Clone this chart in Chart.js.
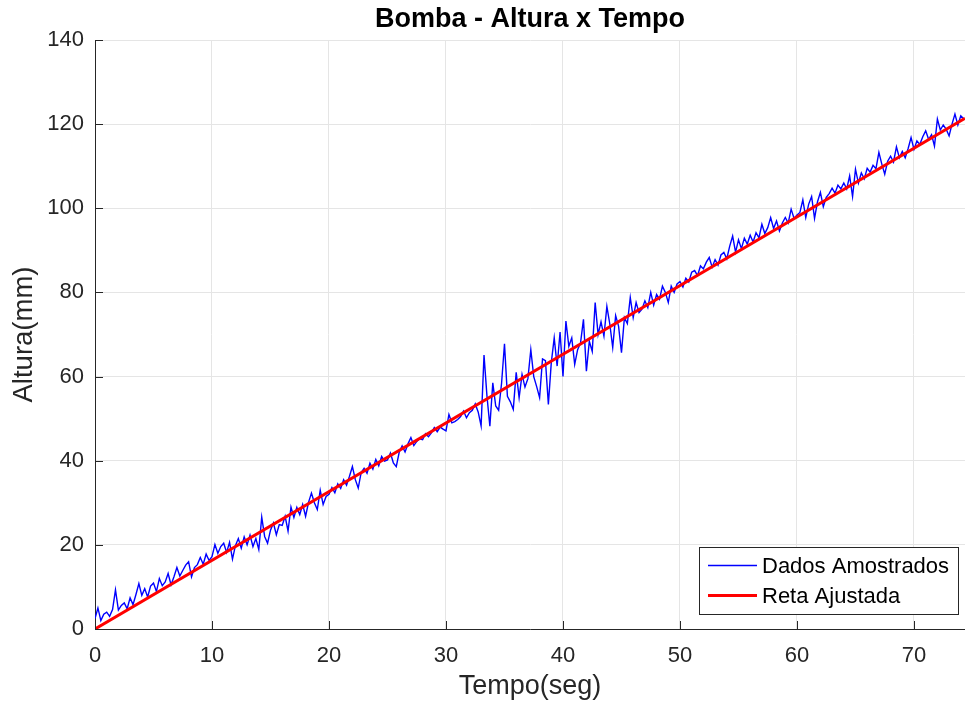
<!DOCTYPE html>
<html>
<head>
<meta charset="utf-8">
<title>Bomba - Altura x Tempo</title>
<script src="https://cdn.jsdelivr.net/npm/chart.js@4.4.1/dist/chart.umd.min.js"></script>
<style>
  html, body { margin: 0; padding: 0; background: #ffffff; }
  #wrap { width: 965px; height: 707px; }
</style>
</head>
<body>
<div id="wrap"><canvas id="grafico" width="965" height="707"></canvas></div>
<script>
// Sampling period of the level sensor (seconds)
const SAMPLE_PERIOD = 0.25;

// Measured water height (mm), one reading per sample
const alturaAmostrada = [
  2.5, 5.0, 2.0, 3.5,   4.0, 3.0, 4.6, 9.3,   4.5, 5.6, 6.2, 4.8,
  7.4, 5.8, 8.2, 10.8,  8.0, 9.6, 7.6, 10.2,  10.9, 8.9, 12.0, 10.3,
  11.2, 13.2, 10.5, 12.4,  14.6, 12.6, 13.9, 15.2,  16.0, 12.4, 14.6, 15.3,
  17.0, 15.4, 17.8, 16.3,  17.2, 20.1, 18.0, 19.6,  20.4, 18.2, 20.6, 16.6,
  19.8, 21.5, 19.2, 21.9,  20.0, 22.3, 19.6, 21.5,  18.9, 26.6, 22.0, 20.4,
  23.5, 25.2, 22.4, 24.8,  24.6, 26.8, 23.3, 29.0,  26.5, 28.9, 27.2, 29.6,
  26.8, 30.1, 32.3, 30.0,  28.4, 33.0, 29.6, 31.5,  32.0, 33.6, 32.4, 34.5,
  33.4, 35.5, 34.2, 36.3,  38.6, 35.5, 33.5, 37.2,  38.2, 37.0, 39.4, 38.0,
  40.3, 38.8, 41.0, 39.9,  40.2, 41.8, 39.5, 38.6,  42.0, 43.5, 42.1, 44.0,
  45.5, 43.6, 44.6, 45.2,  45.0, 46.4, 45.7, 46.6,  47.9, 46.9, 48.0, 47.5,
  47.1, 51.0, 49.0, 49.3,  49.8, 50.5, 51.8, 50.2,  51.4, 52.0, 53.5, 51.6,
  48.3, 65.1, 55.4, 48.2,  58.5, 53.0, 52.0, 58.4,  67.8, 55.3, 54.0, 52.2,
  61.0, 55.0, 60.5, 57.5,  59.5, 66.4, 60.0, 57.6,  55.0, 64.2, 63.8, 53.4,
  63.3, 69.2, 62.5, 70.6,  60.0, 73.2, 67.2, 69.2,  62.9, 66.4, 68.0, 73.6,
  61.3, 68.4, 66.0, 77.6,  70.0, 73.0, 69.6, 76.7,  72.5, 66.9, 74.5, 72.0,
  65.7, 74.0, 72.6, 78.8,  74.0, 77.6, 75.2, 76.0,  78.0, 76.4, 80.0, 77.0,
  79.5, 78.4, 81.5, 80.0,  77.6, 81.5, 80.0, 82.0,  82.6, 81.3, 83.4, 82.5,
  84.8, 85.2, 84.0, 86.3,  85.6, 87.2, 88.3, 86.0,  87.8, 86.5, 88.9, 89.5,
  88.0, 91.0, 93.4, 89.6,  92.5, 90.4, 92.9, 91.5,  93.6, 92.0, 94.2, 93.0,
  96.2, 94.0, 95.4, 97.8,  95.2, 97.0, 94.6, 96.5,  97.8, 96.5, 99.8, 97.6,
  98.4, 99.0, 102.0, 97.8,  101.0, 102.8, 97.6, 101.5,  103.8, 100.4, 102.6, 103.5,
  104.8, 103.6, 105.5, 104.6,  106.0, 104.6, 107.7, 102.8,  109.3, 106.0, 108.4, 107.0,
  109.5, 108.6, 110.2, 109.4,  113.3, 110.5, 108.1, 111.2,  112.4, 111.0, 114.6, 112.0,
  113.5, 112.0, 114.2, 116.8,  114.0, 116.0, 115.2, 117.0,  118.4, 116.4, 117.5, 114.8,
  121.2, 118.6, 119.8, 118.8,  117.2, 120.0, 122.4, 119.8,  122.0, 121.3
];

// Least-squares line, given by its two end points (time s, height mm)
const retaTempo = [0, 74.36];
const retaAltura = [0, 121.4];

// Axis ticks
const tempoTicks = [0, 10, 20, 30, 40, 50, 60, 70];
const alturaTicks = [0, 20, 40, 60, 80, 100, 120, 140];
const TEMPO_MAX = 74.36;

const FONT = "'Liberation Sans', Arial, Helvetica, sans-serif";
const AXIS_COLOR = '#262626';
const GRID_COLOR = '#e5e5e5';

const amostras = alturaAmostrada.map((v, i) => ({ x: i * SAMPLE_PERIOD, y: v }));
const reta = retaTempo.map((t, i) => ({ x: t, y: retaAltura[i] }));

// Short tick marks pointing into the plot area
const ticksInternos = {
  id: 'ticksInternos',
  afterDraw(chart) {
    const { ctx, chartArea: a, scales } = chart;
    const len = 8;
    ctx.save();
    ctx.strokeStyle = AXIS_COLOR;
    ctx.lineWidth = 1;
    ctx.beginPath();
    scales.x.ticks.forEach(t => {
      const px = Math.round(scales.x.getPixelForValue(t.value)) + 0.5;
      ctx.moveTo(px, a.bottom);
      ctx.lineTo(px, a.bottom - len);
    });
    scales.y.ticks.forEach(t => {
      const py = Math.round(scales.y.getPixelForValue(t.value)) + 0.5;
      ctx.moveTo(a.left, py);
      ctx.lineTo(a.left + len, py);
    });
    ctx.stroke();
    ctx.restore();
  }
};

// Boxed legend in the lower right corner of the plot area
const legendaCaixa = {
  id: 'legendaCaixa',
  afterDraw(chart) {
    const { ctx, chartArea: a } = chart;
    const w = 259, h = 67;
    const x0 = a.right - 7 - w, y0 = a.bottom - 15 - h;
    ctx.save();
    ctx.fillStyle = '#ffffff';
    ctx.fillRect(x0, y0, w, h);
    ctx.strokeStyle = AXIS_COLOR;
    ctx.lineWidth = 1;
    ctx.strokeRect(x0 + 0.5, y0 + 0.5, w, h);
    ctx.font = '22px ' + FONT;
    ctx.textBaseline = 'middle';
    ctx.textAlign = 'left';
    const itens = chart.data.datasets;
    itens.forEach((ds, i) => {
      const yy = y0 + 18.5 + i * 30;
      ctx.strokeStyle = ds.borderColor;
      ctx.lineWidth = ds.borderWidth;
      ctx.beginPath();
      ctx.moveTo(x0 + 9, yy);
      ctx.lineTo(x0 + 58, yy);
      ctx.stroke();
      ctx.fillStyle = '#000000';
      ctx.fillText(ds.label, x0 + 63, yy + 1);
    });
    ctx.restore();
  }
};

new Chart(document.getElementById('grafico'), {
  type: 'line',
  data: {
    datasets: [
      {
        label: 'Dados Amostrados',
        data: amostras,
        borderColor: '#0000ff',
        borderWidth: 1.4,
        pointRadius: 0,
        tension: 0,
        fill: false,
        order: 1
      },
      {
        label: 'Reta Ajustada',
        data: reta,
        borderColor: '#ff0000',
        borderWidth: 3,
        pointRadius: 0,
        tension: 0,
        fill: false,
        order: 0
      }
    ]
  },
  options: {
    responsive: false,
    animation: false,
    devicePixelRatio: 1,
    layout: { padding: 0 },
    plugins: {
      legend: { display: false },
      tooltip: { enabled: false },
      title: {
        display: true,
        text: 'Bomba - Altura x Tempo',
        fullSize: false,
        color: '#000000',
        font: { family: FONT, size: 27, weight: 'bold', lineHeight: 1.2 },
        padding: { top: 3.4, bottom: 4.2 }
      }
    },
    scales: {
      x: {
        type: 'linear',
        min: 0,
        max: TEMPO_MAX,
        afterBuildTicks: s => { s.ticks = tempoTicks.map(v => ({ value: v })); },
        afterFit: s => { s.height = 78; },
        grid: { color: GRID_COLOR, drawTicks: false },
        border: { color: AXIS_COLOR, width: 1 },
        ticks: {
          color: AXIS_COLOR,
          font: { family: FONT, size: 22 },
          padding: 14,
          maxRotation: 0,
          autoSkip: false
        },
        title: {
          display: true,
          text: 'Tempo(seg)',
          color: AXIS_COLOR,
          font: { family: FONT, size: 27 },
          padding: { top: 0, bottom: 4 }
        }
      },
      y: {
        type: 'linear',
        min: 0,
        max: 140,
        afterBuildTicks: s => { s.ticks = alturaTicks.map(v => ({ value: v })); },
        afterFit: s => { s.width = 95; },
        grid: { color: GRID_COLOR, drawTicks: false },
        border: { color: AXIS_COLOR, width: 1 },
        ticks: {
          color: AXIS_COLOR,
          font: { family: FONT, size: 22 },
          padding: 11,
          autoSkip: false
        },
        title: {
          display: true,
          text: 'Altura(mm)',
          color: AXIS_COLOR,
          font: { family: FONT, size: 27.5 },
          padding: { top: 8, bottom: 0 }
        }
      }
    }
  },
  plugins: [ticksInternos, legendaCaixa]
});
</script>
</body>
</html>
